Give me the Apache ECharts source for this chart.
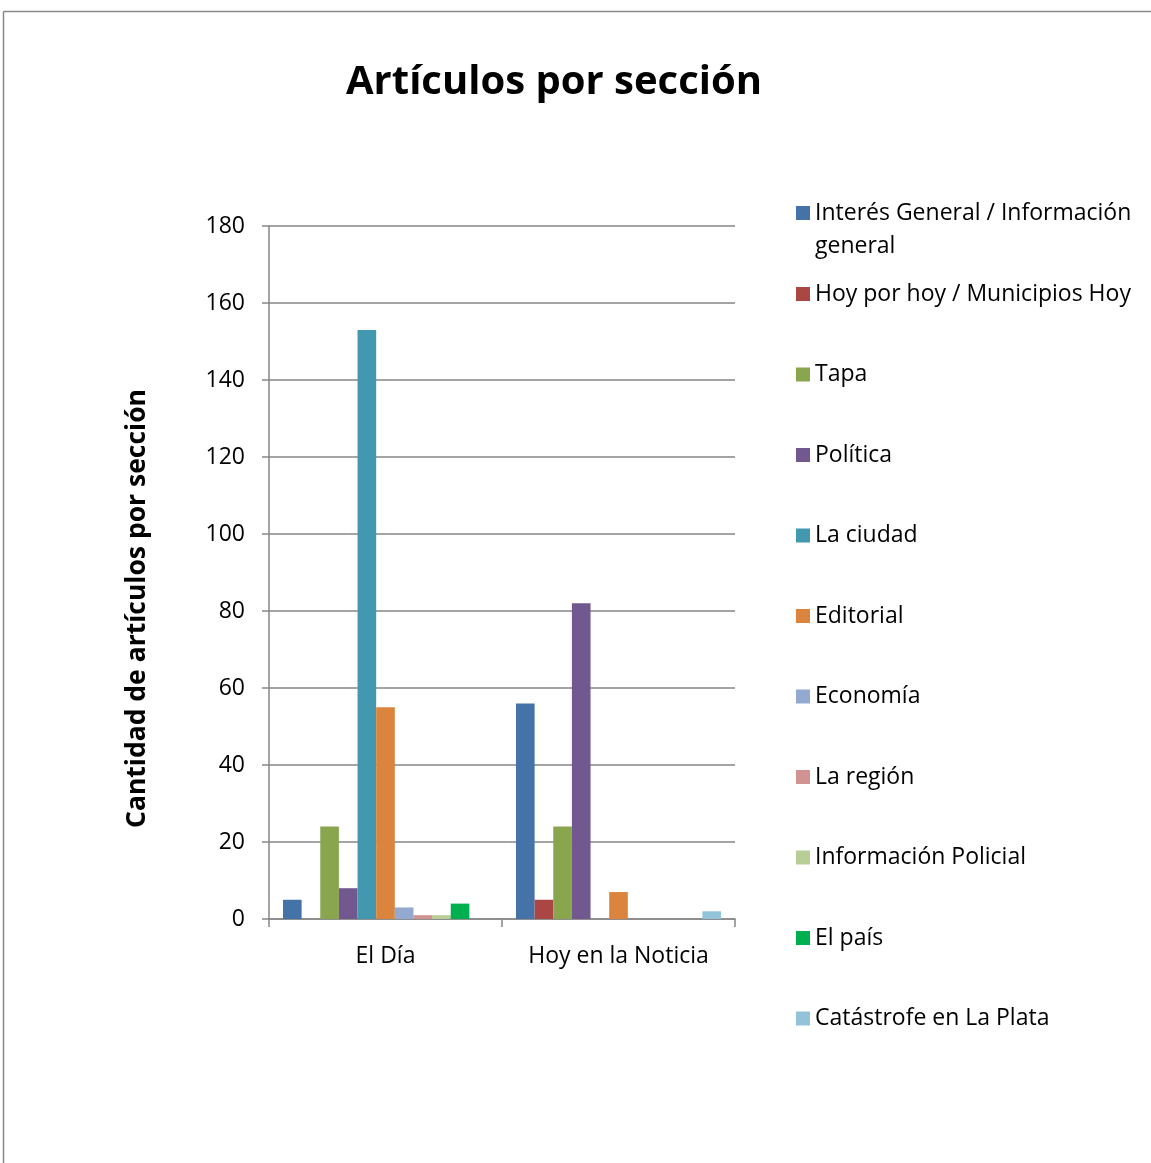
<!DOCTYPE html>
<html>
<head>
<meta charset="utf-8">
<script src="https://cdn.jsdelivr.net/npm/echarts@6/dist/echarts.min.js"></script>
<style>
html,body{margin:0;padding:0;background:#fff;}
#c{width:1151px;height:1163px;}
</style>
</head>
<body>
<div id="c"></div>
<script>
const categories = ['El Día', 'Hoy en la Noticia'];
const seriesNames = [
  'Interés General / Información general',
  'Hoy por hoy / Municipios Hoy',
  'Tapa',
  'Política',
  'La ciudad',
  'Editorial',
  'Economía',
  'La región',
  'Información Policial',
  'El país',
  'Catástrofe en La Plata'
];
const elDia = [5, 0, 24, 8, 153, 55, 3, 1, 1, 4, 0];
const hoyNoticia = [56, 5, 24, 82, 0, 7, 0, 0, 0, 0, 2];
const colors = ['#4572A7', '#AA4643', '#89A54E', '#71588F', '#4198AF', '#DB843D',
                '#93A9CF', '#D19392', '#B9CD96', '#00B050', '#92C3D8'];
const yTicks = [0, 20, 40, 60, 80, 100, 120, 140, 160, 180];

const FONT = 'Open Sans';
const chart = echarts.init(document.getElementById('c'));

const series = seriesNames.map((name, i) => ({
  name: name,
  type: 'bar',
  data: [elDia[i], hoyNoticia[i]],
  itemStyle: { color: colors[i] },
  barGap: '0%',
  barCategoryGap: '12%'
}));

const legendText = { fontFamily: FONT, fontSize: 23, color: '#000', lineHeight: 33 };

chart.setOption({
  animation: false,
  color: colors,
  title: {
    text: 'Artículos por sección',
    left: 549, top: 58, textAlign: 'center',
    textStyle: { fontFamily: FONT, fontSize: 40, fontWeight: 'bold', color: '#000' }
  },
  graphic: [
    { type: 'line', shape: { x1: 3.5, y1: 11.5, x2: 1151, y2: 11.5 }, style: { stroke: '#888', lineWidth: 1.5 } },
    { type: 'line', shape: { x1: 3.5, y1: 11.5, x2: 3.5, y2: 1163 }, style: { stroke: '#888', lineWidth: 1.5 } }
  ],
  legend: [
    {
      data: [seriesNames[0]],
      orient: 'vertical', left: 796, top: 213 - 49.5, padding: 0,
      itemWidth: 14, itemHeight: 14,
      icon: 'rect',
      formatter: () => '\nInterés General / Información\ngeneral',
      textStyle: legendText
    },
    {
      data: seriesNames.slice(1),
      orient: 'vertical', left: 796, top: 294 - 16.5, padding: 0,
      itemWidth: 14, itemHeight: 14, itemGap: 80.5 - 33,
      icon: 'rect',
      textStyle: legendText
    }
  ],
  grid: { left: 269, top: 226, width: 466, height: 693, containLabel: false },
  xAxis: {
    type: 'category',
    data: categories,
    axisLine: { lineStyle: { color: '#868686', width: 1.5 } },
    axisTick: { show: true, interval: 0, length: 8, alignWithLabel: false, lineStyle: { color: '#868686', width: 1.5 } },
    axisLabel: { interval: 0, hideOverlap: false, fontFamily: FONT, fontSize: 23, color: '#000', margin: 26 }
  },
  yAxis: {
    type: 'value',
    min: 0, max: 180, interval: 20,
    name: 'Cantidad de artículos por sección',
    nameLocation: 'middle',
    nameGap: 118,
    nameTextStyle: { fontFamily: FONT, fontSize: 26.5, fontWeight: 'bold', color: '#000', padding: [0, 72, 0, 0] },
    axisLine: { show: true, lineStyle: { color: '#868686', width: 1.5 } },
    axisTick: { show: true, length: 7, inside: false, lineStyle: { color: '#868686', width: 1.5 } },
    axisLabel: {
      fontFamily: FONT, fontSize: 23, color: '#000', margin: 24,
      formatter: v => (yTicks.indexOf(v) >= 0 ? String(v) : '')
    },
    splitLine: { show: true, lineStyle: { color: '#868686', width: 1.5 } }
  },
  series: series
});
</script>
</body>
</html>
